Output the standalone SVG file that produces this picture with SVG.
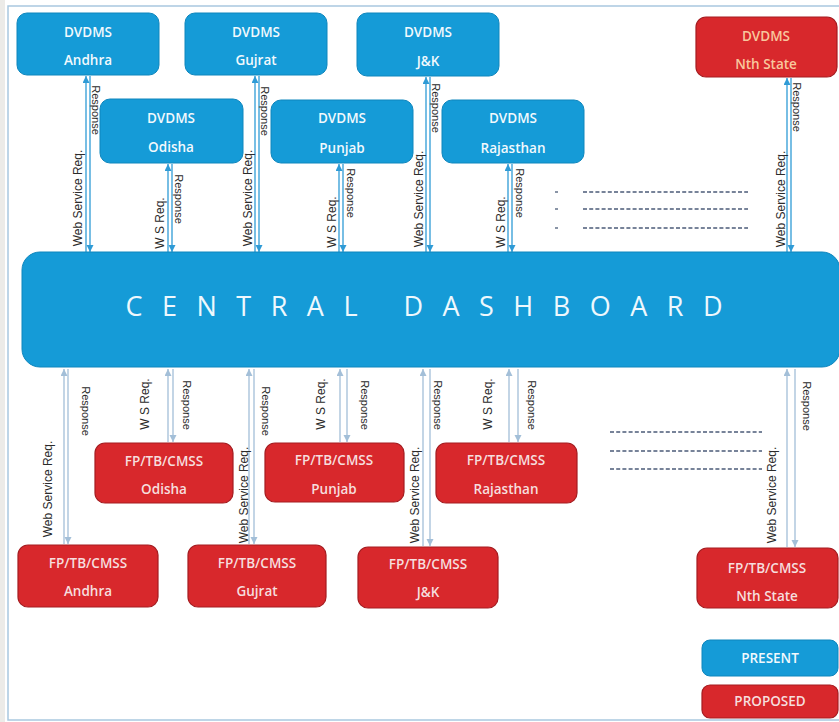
<svg xmlns="http://www.w3.org/2000/svg" width="839" height="722" viewBox="0 0 839 722">
  <style>
    .blue { fill: #159bd7; stroke: #0f86bd; stroke-width: 1; }
    .red { fill: #d8282c; stroke: #a51c20; stroke-width: 1.2; }
    .bt { font-family: "Open Sans", "Liberation Sans", sans-serif; font-size: 13.5px; font-weight: 600; fill: #f2f9fd; text-anchor: middle; dominant-baseline: central; }
    .rt { font-family: "Open Sans", "Liberation Sans", sans-serif; font-size: 13.5px; font-weight: 600; fill: #f6dede; text-anchor: middle; dominant-baseline: central; }
    .nt { font-family: "Open Sans", "Liberation Sans", sans-serif; font-size: 13.5px; font-weight: 600; fill: #f8c79e; text-anchor: middle; dominant-baseline: central; }
    .lbl { font-family: "Liberation Sans", "Open Sans", sans-serif; font-size: 12px; fill: #2b2b2b; text-anchor: middle; dominant-baseline: central; }
    .rsp { font-family: "Liberation Sans", "Open Sans", sans-serif; font-size: 11px; fill: #2b2b2b; text-anchor: middle; dominant-baseline: central; }
    .up { stroke: #2f9bd6; stroke-width: 1.3; fill: none; marker-end: url(#ah); }
    .lo { stroke: #a3bfd8; stroke-width: 1.3; fill: none; marker-end: url(#ahl); }
    .dots { stroke: #4b5b78; stroke-width: 1.3; stroke-dasharray: 4 2.2; fill: none; }
  </style>
  <defs>
    <marker id="ah" markerUnits="userSpaceOnUse" markerWidth="8" markerHeight="8" refX="7" refY="3.5" orient="auto">
      <path d="M0,0 L7,3.5 L0,7 z" fill="#2f9bd6"/>
    </marker>
    <marker id="ahl" markerUnits="userSpaceOnUse" markerWidth="8" markerHeight="8" refX="7" refY="3.5" orient="auto">
      <path d="M0,0 L7,3.5 L0,7 z" fill="#a3bfd8"/>
    </marker>
  </defs>

  <!-- page background and frame -->
  <rect x="0" y="0" width="839" height="722" fill="#ffffff"/>
  <rect x="0" y="0" width="5" height="722" fill="#ecebe8"/>
  <rect x="8" y="6" width="840" height="714" fill="none" stroke="#a9c8df" stroke-width="1.5"/>

  <!-- connectors -->
  <g id="connectors">
    <!-- upper: state DVDMS <-> dashboard -->
    <line class="up" x1="86" y1="252" x2="86" y2="76"/>
    <line class="up" x1="90" y1="76" x2="90" y2="252"/>
    <line class="up" x1="255" y1="252" x2="255" y2="76"/>
    <line class="up" x1="259" y1="76" x2="259" y2="252"/>
    <line class="up" x1="426" y1="252" x2="426" y2="77"/>
    <line class="up" x1="430" y1="77" x2="430" y2="252"/>
    <line class="up" x1="787" y1="252" x2="787" y2="78"/>
    <line class="up" x1="791" y1="78" x2="791" y2="252"/>
    <line class="up" x1="168" y1="252" x2="168" y2="164"/>
    <line class="up" x1="172" y1="164" x2="172" y2="252"/>
    <line class="up" x1="339" y1="252" x2="339" y2="164"/>
    <line class="up" x1="343" y1="164" x2="343" y2="252"/>
    <line class="up" x1="508" y1="252" x2="508" y2="164"/>
    <line class="up" x1="512" y1="164" x2="512" y2="252"/>

    <text class="lbl" transform="translate(78,198) rotate(-90)">Web Service Req.</text>
    <text class="rsp" transform="translate(96,110) rotate(90)">Response</text>
    <text class="lbl" transform="translate(248,198) rotate(-90)">Web Service Req.</text>
    <text class="rsp" transform="translate(265,111) rotate(90)">Response</text>
    <text class="lbl" transform="translate(419,199) rotate(-90)">Web Service Req.</text>
    <text class="rsp" transform="translate(436,108) rotate(90)">Response</text>
    <text class="lbl" transform="translate(781,199) rotate(-90)">Web Service Req.</text>
    <text class="rsp" transform="translate(797,107) rotate(90)">Response</text>
    <text class="lbl" transform="translate(160,223) rotate(-90)">W S Req.</text>
    <text class="rsp" transform="translate(179,199) rotate(90)">Response</text>
    <text class="lbl" transform="translate(332,222) rotate(-90)">W S Req.</text>
    <text class="rsp" transform="translate(351,193) rotate(90)">Response</text>
    <text class="lbl" transform="translate(501,222) rotate(-90)">W S Req.</text>
    <text class="rsp" transform="translate(520,193) rotate(90)">Response</text>

    <!-- more states (upper) -->
    <line class="dots" x1="555" y1="192" x2="558" y2="192"/>
    <line class="dots" x1="583" y1="192" x2="748" y2="192"/>
    <line class="dots" x1="555" y1="209" x2="558" y2="209"/>
    <line class="dots" x1="583" y1="209" x2="748" y2="209"/>
    <line class="dots" x1="555" y1="228" x2="558" y2="228"/>
    <line class="dots" x1="583" y1="228" x2="748" y2="228"/>

    <!-- lower: dashboard <-> state FP/TB/CMSS -->
    <line class="lo" x1="64" y1="544" x2="64" y2="369"/>
    <line class="lo" x1="68" y1="369" x2="68" y2="544"/>
    <line class="lo" x1="168" y1="442" x2="168" y2="369"/>
    <line class="lo" x1="173" y1="369" x2="173" y2="442"/>
    <line class="lo" x1="249" y1="544" x2="249" y2="369"/>
    <line class="lo" x1="254" y1="369" x2="254" y2="544"/>
    <line class="lo" x1="340" y1="442" x2="340" y2="369"/>
    <line class="lo" x1="347" y1="369" x2="347" y2="442"/>
    <line class="lo" x1="423" y1="546" x2="423" y2="369"/>
    <line class="lo" x1="430" y1="369" x2="430" y2="546"/>
    <line class="lo" x1="509" y1="442" x2="509" y2="369"/>
    <line class="lo" x1="518" y1="369" x2="518" y2="442"/>
    <line class="lo" x1="787" y1="547" x2="787" y2="369"/>
    <line class="lo" x1="795" y1="369" x2="795" y2="547"/>

    <text class="lbl" transform="translate(48,489) rotate(-90)">Web Service Req.</text>
    <text class="rsp" transform="translate(86,411) rotate(90)">Response</text>
    <text class="lbl" transform="translate(145,404) rotate(-90)">W S Req.</text>
    <text class="rsp" transform="translate(187,405) rotate(90)">Response</text>
    <text class="lbl" transform="translate(244,495) rotate(-90)">Web Service Req.</text>
    <text class="rsp" transform="translate(266,411) rotate(90)">Response</text>
    <text class="lbl" transform="translate(321,404) rotate(-90)">W S Req.</text>
    <text class="rsp" transform="translate(365,405) rotate(90)">Response</text>
    <text class="lbl" transform="translate(415,495) rotate(-90)">Web Service Req.</text>
    <text class="rsp" transform="translate(438,405) rotate(90)">Response</text>
    <text class="lbl" transform="translate(488,404) rotate(-90)">W S Req.</text>
    <text class="rsp" transform="translate(532,405) rotate(90)">Response</text>
    <text class="lbl" transform="translate(772,495) rotate(-90)">Web Service Req.</text>
    <text class="rsp" transform="translate(807,406) rotate(90)">Response</text>

    <!-- more states (lower) -->
    <line class="dots" x1="610" y1="432" x2="762" y2="432"/>
    <line class="dots" x1="610" y1="451" x2="762" y2="451"/>
    <line class="dots" x1="610" y1="469" x2="762" y2="469"/>
  </g>

  <!-- central dashboard -->
  <g id="dashboard">
    <rect class="blue" x="22" y="252" width="818" height="115" rx="18"/>
    <text x="424" y="305" textLength="597" lengthAdjust="spacing" font-family="'Open Sans', 'Liberation Sans', sans-serif" font-size="27" fill="#eef8fd" text-anchor="middle" dominant-baseline="central">CENTRAL DASHBOARD</text>
  </g>

  <!-- state DVDMS systems (present) -->
  <g id="dvdms-andhra">
    <rect class="blue" x="17" y="13" width="142" height="62" rx="10"/>
    <text class="bt" x="88" y="32">DVDMS</text>
    <text class="bt" x="88" y="60">Andhra</text>
  </g>
  <g id="dvdms-gujrat">
    <rect class="blue" x="185" y="13" width="142" height="62" rx="10"/>
    <text class="bt" x="256" y="32">DVDMS</text>
    <text class="bt" x="256" y="60">Gujrat</text>
  </g>
  <g id="dvdms-jk">
    <rect class="blue" x="357" y="13" width="142" height="63" rx="10"/>
    <text class="bt" x="428" y="32">DVDMS</text>
    <text class="bt" x="428" y="61">J&amp;K</text>
  </g>
  <g id="dvdms-odisha">
    <rect class="blue" x="100" y="99" width="143" height="64" rx="10"/>
    <text class="bt" x="171" y="118">DVDMS</text>
    <text class="bt" x="171" y="147">Odisha</text>
  </g>
  <g id="dvdms-punjab">
    <rect class="blue" x="271" y="100" width="142" height="63" rx="10"/>
    <text class="bt" x="342" y="118">DVDMS</text>
    <text class="bt" x="342" y="148">Punjab</text>
  </g>
  <g id="dvdms-rajasthan">
    <rect class="blue" x="442" y="100" width="142" height="63" rx="10"/>
    <text class="bt" x="513" y="118">DVDMS</text>
    <text class="bt" x="513" y="148">Rajasthan</text>
  </g>
  <g id="dvdms-nth">
    <rect class="red" x="696" y="17" width="141" height="60" rx="10"/>
    <text class="nt" x="766" y="36">DVDMS</text>
    <text class="nt" x="766" y="64">Nth  State</text>
  </g>

  <!-- state FP/TB/CMSS systems (proposed) -->
  <g id="fp-odisha">
    <rect class="red" x="95" y="443" width="138" height="60" rx="10"/>
    <text class="rt" x="164" y="461">FP/TB/CMSS</text>
    <text class="rt" x="164" y="489">Odisha</text>
  </g>
  <g id="fp-punjab">
    <rect class="red" x="265" y="443" width="139" height="59" rx="10"/>
    <text class="rt" x="334" y="460">FP/TB/CMSS</text>
    <text class="rt" x="334" y="489">Punjab</text>
  </g>
  <g id="fp-rajasthan">
    <rect class="red" x="436" y="443" width="141" height="60" rx="10"/>
    <text class="rt" x="506" y="460">FP/TB/CMSS</text>
    <text class="rt" x="506" y="489">Rajasthan</text>
  </g>
  <g id="fp-andhra">
    <rect class="red" x="18" y="545" width="140" height="62" rx="10"/>
    <text class="rt" x="88" y="563">FP/TB/CMSS</text>
    <text class="rt" x="88" y="591">Andhra</text>
  </g>
  <g id="fp-gujrat">
    <rect class="red" x="188" y="545" width="138" height="62" rx="10"/>
    <text class="rt" x="257" y="563">FP/TB/CMSS</text>
    <text class="rt" x="257" y="591">Gujrat</text>
  </g>
  <g id="fp-jk">
    <rect class="red" x="358" y="547" width="140" height="61" rx="10"/>
    <text class="rt" x="428" y="564">FP/TB/CMSS</text>
    <text class="rt" x="428" y="592">J&amp;K</text>
  </g>
  <g id="fp-nth">
    <rect class="red" x="697" y="548" width="141" height="60" rx="10"/>
    <text class="rt" x="767" y="568">FP/TB/CMSS</text>
    <text class="rt" x="767" y="596">Nth State</text>
  </g>

  <!-- legend -->
  <g id="legend-present">
    <rect class="blue" x="702" y="640" width="136" height="36" rx="8"/>
    <text class="bt" x="770" y="658" fill="#d4ecf8">PRESENT</text>
  </g>
  <g id="legend-proposed">
    <rect class="red" x="702" y="685" width="136" height="33" rx="8"/>
    <text class="rt" x="770" y="701">PROPOSED</text>
  </g>
</svg>
